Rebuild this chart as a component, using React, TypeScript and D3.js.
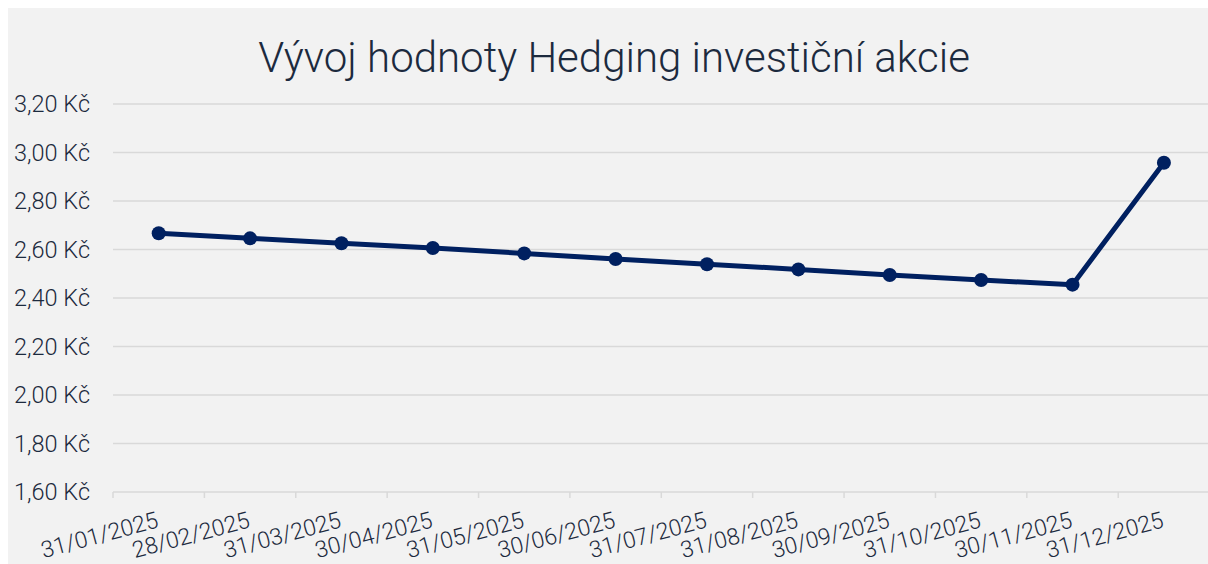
import React, { useEffect, useRef } from "react";
import * as d3 from "d3";

const title = "Vývoj hodnoty Hedging investiční akcie";
const categories = [
  "31/01/2025", "28/02/2025", "31/03/2025", "30/04/2025", "31/05/2025", "30/06/2025",
  "31/07/2025", "31/08/2025", "30/09/2025", "31/10/2025", "30/11/2025", "31/12/2025",
];
const values = [2.667, 2.646, 2.626, 2.606, 2.584, 2.561, 2.539, 2.518, 2.495, 2.474, 2.455, 2.958];
const yTicks = [1.6, 1.8, 2.0, 2.2, 2.4, 2.6, 2.8, 3.0, 3.2];

const W = 1200;
const H = 556;

export default function App() {
  const ref = useRef<SVGSVGElement | null>(null);

  useEffect(() => {
    document.documentElement.style.overflow = "hidden";
    document.body.style.overflow = "hidden";

    const svg = d3.select(ref.current);
    svg.selectAll("*").remove();

    const left = 105;
    const right = 1201.6;
    const top = 96;
    const bottom = 484;
    const font = "Roboto, 'Noto Sans', sans-serif";
    const textColor = "#1c2a3e";
    const gridColor = "#d9d9d9";

    svg.append("rect").attr("width", W).attr("height", H).attr("fill", "#f2f2f2");

    const x = d3.scaleBand<string>().domain(categories).range([left, right]).padding(0);
    const y = d3.scaleLinear().domain([1.6, 3.2]).range([bottom, top]);

    svg.append("text")
      .attr("x", 606).attr("y", 64)
      .attr("text-anchor", "middle")
      .attr("font-family", font).attr("font-size", 42).attr("font-weight", 300)
      .attr("fill", textColor)
      .text(title);

    const fmt = (v: number) => v.toFixed(2).replace(".", ",") + " Kč";

    yTicks.forEach((t) => {
      svg.append("line")
        .attr("x1", left).attr("x2", W)
        .attr("y1", y(t)).attr("y2", y(t))
        .attr("stroke", gridColor).attr("stroke-width", 1.5);
      svg.append("text")
        .attr("x", 82).attr("y", y(t))
        .attr("dy", "0.35em")
        .attr("text-anchor", "end")
        .attr("font-family", font).attr("font-size", 23.5).attr("font-weight", 300)
        .attr("fill", textColor)
        .text(fmt(t));
    });

    categories.forEach((c) => {
      const bx = x(c)!;
      svg.append("line")
        .attr("x1", bx).attr("x2", bx)
        .attr("y1", bottom).attr("y2", bottom + 6)
        .attr("stroke", gridColor).attr("stroke-width", 1.5);
    });

    categories.forEach((c) => {
      const cx = x(c)! + x.bandwidth() / 2 + 1;
      const cy = 519;
      svg.append("text")
        .attr("transform", `translate(${cx},${cy}) rotate(-15)`)
        .attr("text-anchor", "end")
        .attr("font-family", font).attr("font-size", 23).attr("font-weight", 300)
        .attr("fill", textColor)
        .text(c);
    });

    const line = d3.line<number>()
      .x((_, i) => x(categories[i])! + x.bandwidth() / 2)
      .y((d) => y(d));

    svg.append("path")
      .datum(values)
      .attr("d", line)
      .attr("fill", "none")
      .attr("stroke", "#002060")
      .attr("stroke-width", 5)
      .attr("stroke-linejoin", "round");

    svg.selectAll("circle.pt")
      .data(values)
      .enter()
      .append("circle")
      .attr("class", "pt")
      .attr("cx", (_, i) => x(categories[i])! + x.bandwidth() / 2)
      .attr("cy", (d) => y(d))
      .attr("r", 7)
      .attr("fill", "#002060");
  }, []);

  return (
    <svg
      ref={ref}
      width={W}
      height={H}
      style={{ display: "block", position: "absolute", left: 8, top: 8, maxWidth: "none" }}
    />
  );
}
